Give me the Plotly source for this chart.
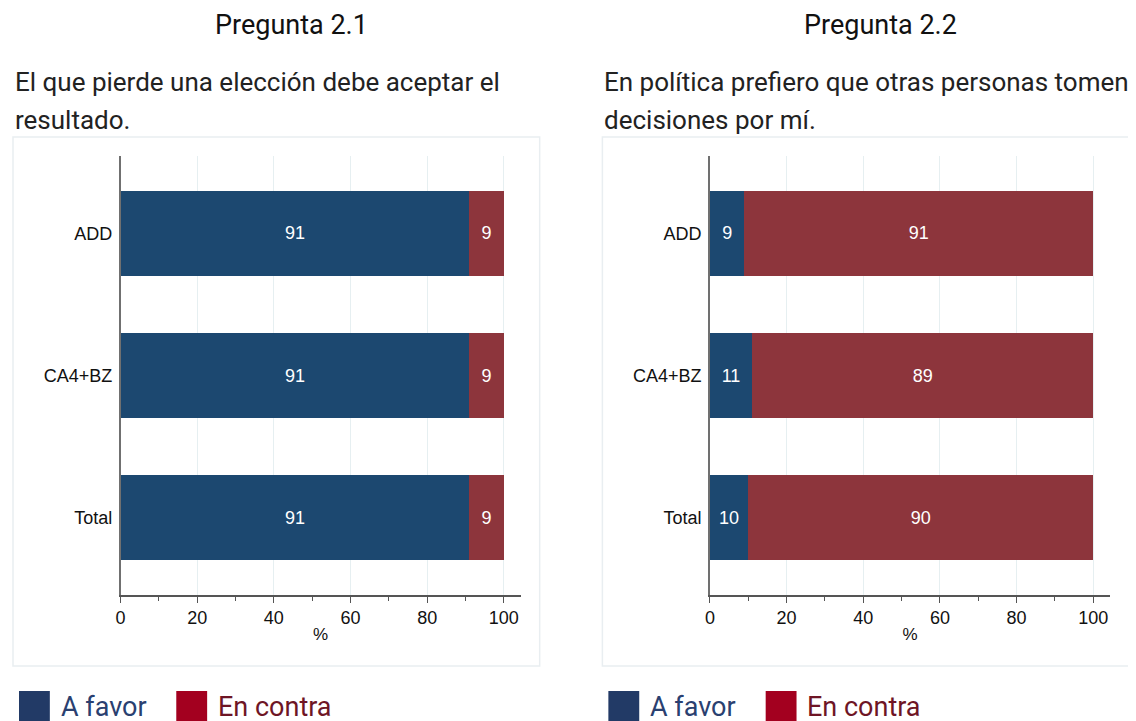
import plotly.graph_objects as go
from plotly.subplots import make_subplots

W, H = 1136, 721
OFF_X, OFF_Y = 12, 8  # desplazamiento de la figura dentro de la página

categorias = ["ADD", "CA4+BZ", "Total"]
p21_favor = [91, 91, 91]
p21_contra = [9, 9, 9]
p22_favor = [9, 11, 10]
p22_contra = [91, 89, 90]

titulos = ["Pregunta 2.1", "Pregunta 2.2"]
preguntas = [["El que pierde una elección debe aceptar el", "resultado."],
             ["En política prefiero que otras personas tomen", "decisiones por mí."]]
leyenda = ["A favor", "En contra"]

AZUL = "#1c4870"
ROJO = "#8d353c"
AZUL_LEY = "#223a66"
ROJO_LEY = "#a3001f"


def px(x):
    return (x - OFF_X) / W


def py(y):
    return 1 - (y - OFF_Y) / H


fig = make_subplots(rows=1, cols=2, horizontal_spacing=0.1)

for col, (favor, contra) in enumerate([(p21_favor, p21_contra), (p22_favor, p22_contra)], start=1):
    for vals, color, name in [(favor, AZUL, leyenda[0]), (contra, ROJO, leyenda[1])]:
        fig.add_trace(go.Bar(
            y=categorias, x=vals, orientation="h", name=name,
            marker=dict(color=color, line=dict(width=0)),
            width=0.6, text=vals, textposition="inside",
            insidetextanchor="middle", textangle=0,
            textfont=dict(color="white", size=18, family="Liberation Sans, Arial"),
            showlegend=False, hoverinfo="x+name",
        ), row=1, col=col)

fig.update_layout(
    barmode="stack",
    width=W, height=H,
    margin=dict(l=0, r=0, t=0, b=0),
    paper_bgcolor="white", plot_bgcolor="white",
    font=dict(family="Liberation Sans, Arial", size=18, color="#222222"),
)

# posiciones de los ejes (pixeles de la imagen)
ejes = [(120, 522), (712, 1114)]
for i, (x0, x1) in enumerate(ejes, start=1):
    fig.update_xaxes(
        domain=[px(x0), px(x1)], range=[0, (x1 - x0) / 3.85],
        tickvals=[0, 20, 40, 60, 80, 100], ticks="outside", ticklen=6,
        tickcolor="#555555", showline=True, linecolor="#555555", linewidth=1.5,
        showgrid=True, gridcolor="#e6eff1", gridwidth=1, zeroline=False,
        minor=dict(tickvals=[10, 30, 50, 70, 90], ticks="outside", ticklen=4,
                   tickcolor="#555555", showgrid=False),
        tickfont=dict(size=18, color="#111111"),
        title=dict(text="%", font=dict(size=17, color="#111111"), standoff=1),
        row=1, col=i,
    )
    fig.update_yaxes(
        domain=[py(595), py(156)], categoryorder="array", categoryarray=categorias,
        range=[2.545, -0.545], showline=True, linecolor="#707070", linewidth=1.5,
        showgrid=False, ticks="", ticklabelstandoff=3,
        tickfont=dict(size=18, color="#111111"),
        row=1, col=i,
    )

# marcos de los paneles
for x0, x1 in [(12, 541), (604, 1133)]:
    fig.add_shape(type="rect", xref="paper", yref="paper",
                  x0=px(x0), x1=px(x1), y0=py(666), y1=py(137),
                  line=dict(color="#e9eef1", width=1.5), fillcolor="rgba(0,0,0,0)",
                  layer="below")

# títulos y textos de pregunta
for cx, lx, tit, preg in [(292, 12, titulos[0], preguntas[0]), (883, 604, titulos[1], preguntas[1])]:
    fig.add_annotation(text=tit, x=px(cx), y=py(25), xref="paper", yref="paper",
                       xanchor="center", yanchor="middle", showarrow=False,
                       font=dict(family="Roboto", size=27, color="#111111"))
    for k, linea in enumerate(preg):
        fig.add_annotation(text=linea, x=px(lx), y=py(82 + 38 * k), xref="paper", yref="paper",
                           xanchor="left", yanchor="middle", align="left", showarrow=False,
                           font=dict(family="Roboto", size=26, color="#222222"))

# leyendas
for base in [18, 610]:
    for off, col_sq, col_txt, txt in [(0, AZUL_LEY, "#2a4070", leyenda[0]),
                                      (158, ROJO_LEY, "#6e1525", leyenda[1])]:
        fig.add_shape(type="rect", xref="paper", yref="paper",
                      x0=px(base + off), x1=px(base + off + 31), y0=py(721), y1=py(691),
                      line=dict(width=0), fillcolor=col_sq)
        fig.add_annotation(text=txt, x=px(base + off + 40), y=py(707), xref="paper", yref="paper",
                           xanchor="left", yanchor="middle", showarrow=False,
                           font=dict(family="Roboto", size=27, color=col_txt))

fig.write_html("out.html")
